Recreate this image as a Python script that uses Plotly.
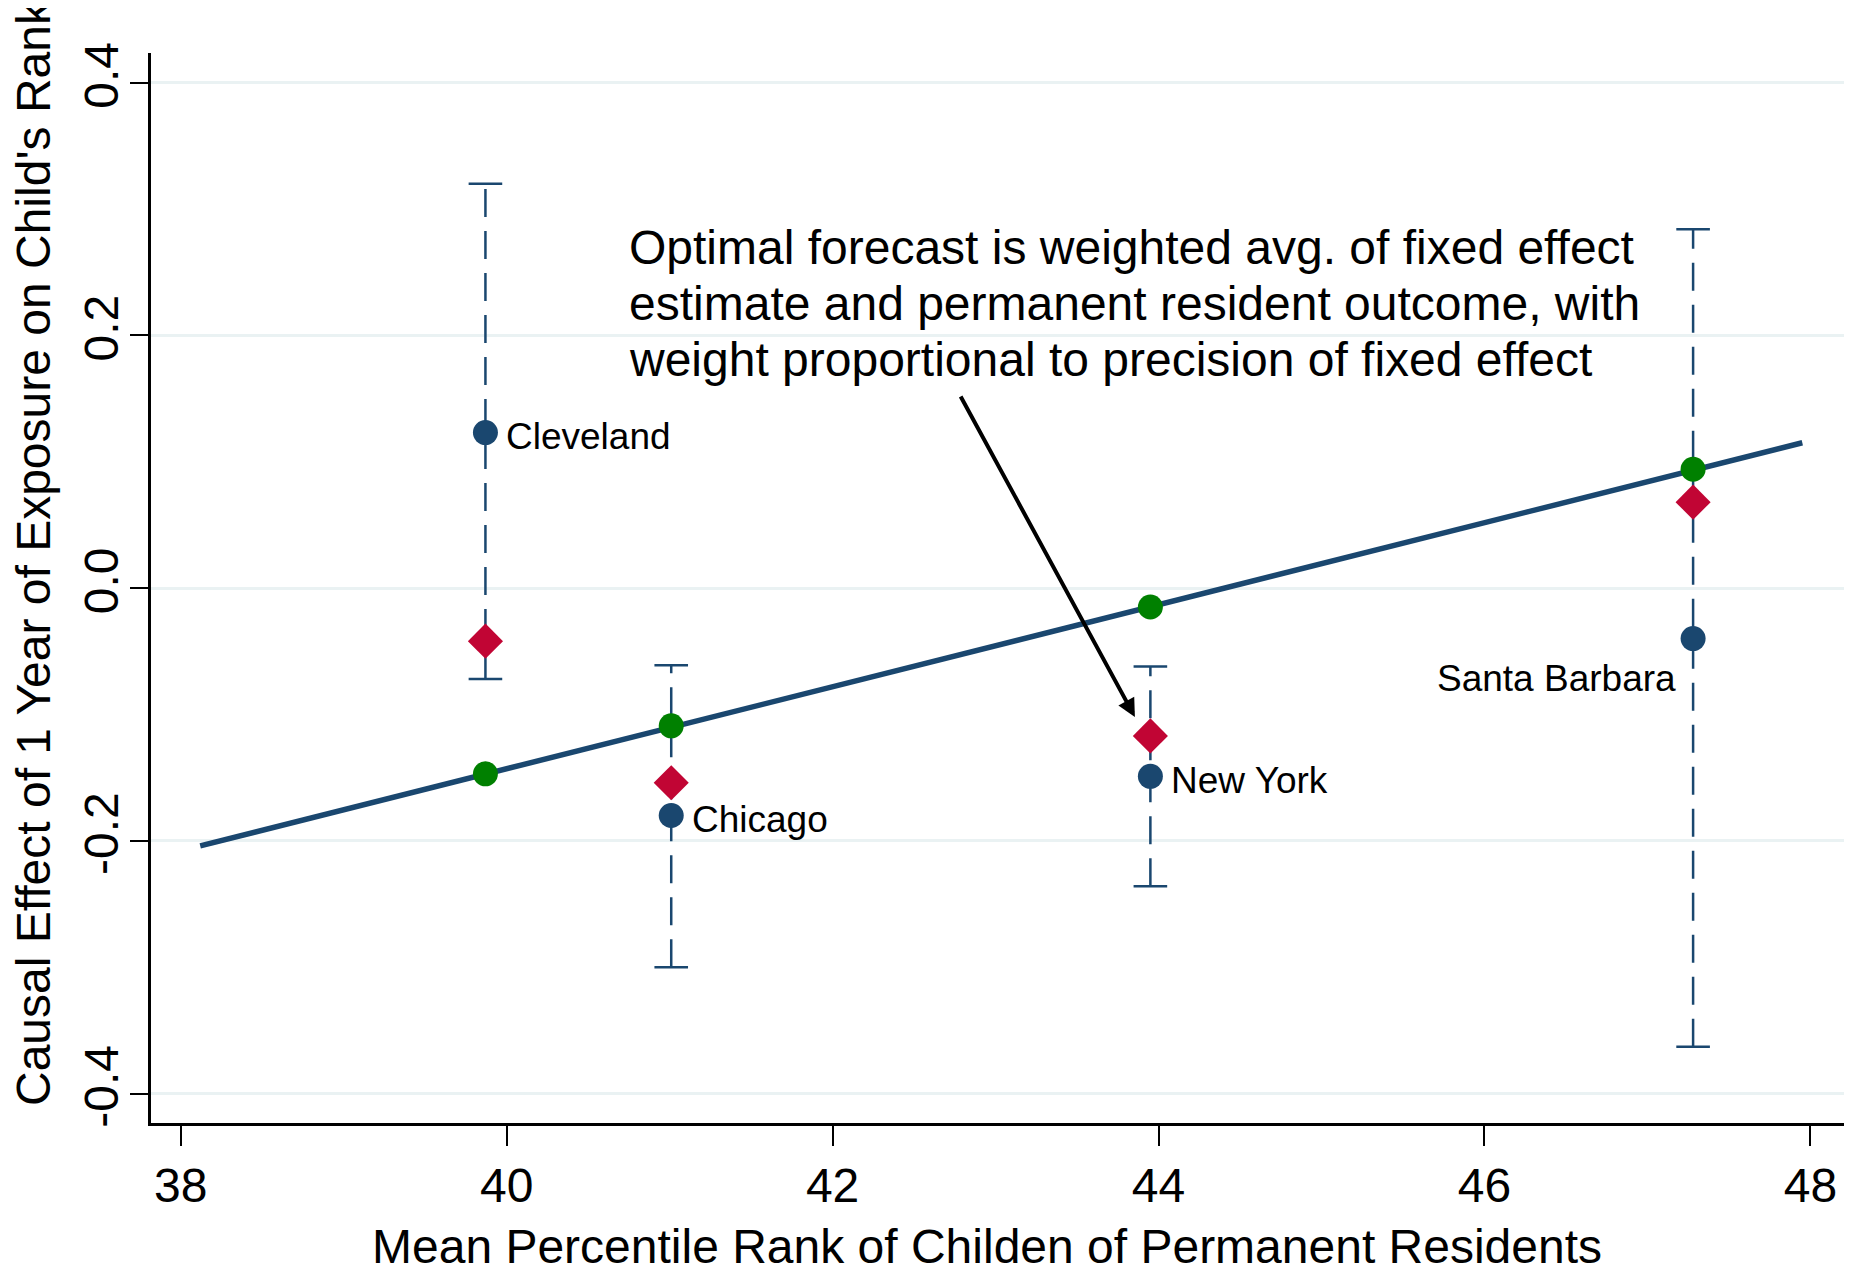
"""
Fixed-effect estimates vs permanent-resident outcomes, with optimal forecasts
"""

import plotly.graph_objects as go

# ---- data ----
cities = ['Cleveland', 'Chicago', 'New York', 'Santa Barbara']
perm_rank = [39.87, 41.01, 43.95, 47.28]           # x: mean percentile rank of perm. residents
fixed_effect = [0.123, -0.180, -0.149, -0.040]      # blue dots
fe_ci_low = [-0.072, -0.300, -0.236, -0.363]
fe_ci_high = [0.320, -0.061, -0.062, 0.284]
perm_pred = [-0.147, -0.109, -0.015, 0.094]         # green dots (on fitted line)
forecast = [-0.042, -0.154, -0.117, 0.068]          # red diamonds

fit_x = [38.12, 47.95]
fit_y = [-0.204, 0.115]

x_ticks = [38, 40, 42, 44, 46, 48]
y_ticks = [-0.4, -0.2, 0.0, 0.2, 0.4]
y_tick_labels = ['-0.4', '-0.2', '0.0', '0.2', '0.4']

note_lines = [
    'Optimal forecast is weighted avg. of fixed effect',
    'estimate and permanent resident outcome, with',
    'weight proportional to precision of fixed effect',
]

NAVY = '#1a476f'
GREEN = '#008000'
RED = '#c10534'
FONT = 'Liberation Sans, Arial, sans-serif'

# page offset of the plotly div (browser body margin)
OFF = 8

fig = go.Figure()

# dashed error bars
ex, ey = [], []
for x, lo, hi in zip(perm_rank, fe_ci_low, fe_ci_high):
    ex += [x, x, None]
    ey += [lo, hi, None]
fig.add_trace(go.Scatter(x=ex, y=ey, mode='lines',
                         line=dict(color=NAVY, width=2.5, dash='28px,14px'),
                         hoverinfo='skip'))
# caps
fig.add_trace(go.Scatter(x=perm_rank + perm_rank, y=fe_ci_low + fe_ci_high, mode='markers',
                         marker=dict(symbol='line-ew-open', size=24, color=NAVY,
                                     line=dict(color=NAVY, width=2.5)),
                         hoverinfo='skip'))

# fitted line
fig.add_trace(go.Scatter(x=fit_x, y=fit_y, mode='lines',
                         line=dict(color=NAVY, width=5.5)))

# fixed effect estimates
fig.add_trace(go.Scatter(x=perm_rank, y=fixed_effect, mode='markers',
                         marker=dict(color=NAVY, size=25), text=cities,
                         hovertemplate='%{text}<br>FE: %{y:.3f}<extra></extra>'))
# forecasts
fig.add_trace(go.Scatter(x=perm_rank, y=forecast, mode='markers',
                         marker=dict(color=RED, symbol='diamond', size=27), text=cities,
                         hovertemplate='%{text}<br>Forecast: %{y:.3f}<extra></extra>'))
# permanent resident predictions
fig.add_trace(go.Scatter(x=perm_rank, y=perm_pred, mode='markers',
                         marker=dict(color=GREEN, size=25), text=cities,
                         hovertemplate='%{text}<br>Perm: %{y:.3f}<extra></extra>'))

# city labels
for i, name in enumerate(cities):
    if name == 'Santa Barbara':
        fig.add_annotation(x=perm_rank[i], y=fixed_effect[i], text=name, showarrow=False,
                           xanchor='right', yanchor='middle', xshift=-15, yshift=-40,
                           font=dict(size=37, color='black', family=FONT))
    else:
        fig.add_annotation(x=perm_rank[i], y=fixed_effect[i], text=name, showarrow=False,
                           xanchor='left', yanchor='middle', xshift=19, yshift=-4,
                           font=dict(size=37, color='black', family=FONT))

# note text
note_y = [248, 303, 359]   # pixel rows of the three lines
plot_left, plot_top, plot_w, plot_h = 151, 53, 1701, 1070
for line, py in zip(note_lines, note_y):
    fig.add_annotation(xref='paper', yref='paper', x=(627 - plot_left) / plot_w,
                       y=(plot_top + plot_h - py) / plot_h,
                       text=line, showarrow=False, xanchor='left', yanchor='middle',
                       font=dict(size=48, color='black', family=FONT))

# arrow
fig.add_annotation(x=43.855, y=-0.102, ax=42.781, ay=0.1528, axref='x', ayref='y',
                   xref='x', yref='y', text='', showarrow=True,
                   arrowhead=2, arrowsize=0.9, arrowwidth=4, arrowcolor='black')

# axis titles
fig.add_annotation(xref='paper', yref='paper', x=(987 - plot_left) / plot_w,
                   y=(plot_top + plot_h - 1246) / plot_h,
                   text='Mean Percentile Rank of Childen of Permanent Residents',
                   showarrow=False, xanchor='center', yanchor='middle',
                   font=dict(size=48, color='black', family=FONT))
fig.add_annotation(xref='paper', yref='paper', x=(33 - plot_left) / plot_w,
                   y=(plot_top + plot_h - 553) / plot_h,
                   text="Causal Effect of 1 Year of Exposure on Child's Rank",
                   showarrow=False, xanchor='center', yanchor='middle', textangle=-90,
                   font=dict(size=48, color='black', family=FONT))

fig.update_layout(
    width=1852, height=1271,
    margin=dict(l=plot_left - OFF, r=1852 - (plot_left - OFF) - plot_w,
                t=plot_top - OFF, b=1271 - (plot_top - OFF) - plot_h),
    plot_bgcolor='white', paper_bgcolor='white',
    showlegend=False,
    font=dict(family=FONT, color='black'),
    xaxis=dict(
        range=[37.818, 48.255], tickvals=x_ticks,
        showgrid=False, zeroline=False,
        showline=True, linecolor='black', linewidth=2.5,
        ticks='outside', ticklen=20, tickwidth=2, tickcolor='black',
        tickfont=dict(size=48, family=FONT, color='black'),
        ticklabelstandoff=-1,
    ),
    yaxis=dict(
        range=[-0.4233, 0.4234], tickvals=y_ticks, ticktext=y_tick_labels,
        showgrid=True, gridcolor='#eaf2f3', gridwidth=3, zeroline=False,
        showline=True, linecolor='black', linewidth=2.5,
        ticks='outside', ticklen=18, tickwidth=2, tickcolor='black',
        tickangle=-90,
        tickfont=dict(size=48, family=FONT, color='black'),
        ticklabelstandoff=-7,
    ),
)

fig.write_html('out.html')
